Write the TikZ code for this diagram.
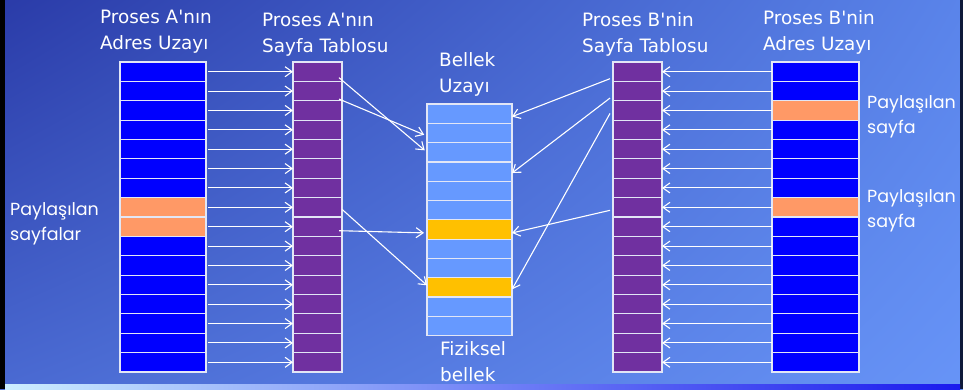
\documentclass[tikz,border=0pt]{standalone}
\usepackage{fontspec}
\newfontfamily\headfont{DejaVu Sans}
\newfontfamily\comicfont{Poppins}
\usetikzlibrary{arrows.meta,shadings}
\definecolor{cBlue}{HTML}{0000FF}
\definecolor{cOrange}{HTML}{FF9966}
\definecolor{cPurple}{HTML}{7030A0}
\definecolor{cMem}{HTML}{6699FF}
\definecolor{cYellow}{HTML}{FFC000}
\definecolor{cBorder}{HTML}{E2E6F6}
\definecolor{bgUL}{HTML}{2A3BA8}
\definecolor{bgUR}{HTML}{5A84EA}
\definecolor{bgLL}{HTML}{4A6AD2}
\definecolor{bgLR}{HTML}{6794F7}
\definecolor{edgeR}{HTML}{0E1A3A}
\definecolor{barL}{HTML}{CCEEFF}
\definecolor{barM}{HTML}{9DB2F4}
\definecolor{barR}{HTML}{1A1AEE}
\begin{document}
\begin{tikzpicture}[x=1pt,y=-1pt,
  cell/.style={draw=cBorder, line width=1.2pt, inner sep=0pt, outer sep=0pt, anchor=north west, minimum height=19.375pt},
  addr/.style={cell, minimum width=86pt},
  ptab/.style={cell, minimum width=49pt},
  mem/.style={cell, minimum width=85pt, minimum height=19.3pt},
  arr/.style={draw=white, line width=1.1pt, -{Straight Barb[length=7pt,width=10pt]}},
  head/.style={text=white, font=\headfont\fontsize{18.4}{25.5}\selectfont, align=left, anchor=base west, inner sep=0pt},
  side/.style={text=white, font=\comicfont\fontsize{17.5}{24.5}\selectfont, align=left, anchor=base west, inner sep=0pt}]
\useasboundingbox (0,0) rectangle (963,389);
% background
\shade[upper left=bgUL, upper right=bgUR, lower left=bgLL, lower right=bgLR] (0,0) rectangle (963,389);
\fill[black] (0,0) rectangle (5,389);
\fill[edgeR] (960,0) rectangle (963,389);
\shade[left color=barL, middle color=barM, right color=barR] (5,384) rectangle (960,389);
% address space A
\foreach \i/\c in {0/cBlue,1/cBlue,2/cBlue,3/cBlue,4/cBlue,5/cBlue,6/cBlue,7/cOrange,8/cOrange,9/cBlue,10/cBlue,11/cBlue,12/cBlue,13/cBlue,14/cBlue,15/cBlue}
  \node[addr, fill=\c] (a\i) at (120,{62+\i*19.375}) {};
% page table A
\foreach \i in {0,...,15}
  \node[ptab, fill=cPurple] (p\i) at (293,{62+\i*19.375}) {};
% memory
\foreach \i/\c in {0/cMem,1/cMem,2/cMem,3/cMem,4/cMem,5/cMem,6/cYellow,7/cMem,8/cMem,9/cYellow,10/cMem,11/cMem}
  \node[mem, fill=\c] (m\i) at (427,{104+\i*19.3}) {};
% page table B
\foreach \i in {0,...,15}
  \node[ptab, fill=cPurple] (q\i) at (613,{62+\i*19.375}) {};
% address space B
\foreach \i/\c in {0/cBlue,1/cBlue,2/cOrange,3/cBlue,4/cBlue,5/cBlue,6/cBlue,7/cOrange,8/cBlue,9/cBlue,10/cBlue,11/cBlue,12/cBlue,13/cBlue,14/cBlue,15/cBlue}
  \node[addr, minimum width=87pt, fill=\c] (b\i) at (772,{62+\i*19.375}) {};
% horizontal arrows
\foreach \i in {0,...,15} {
  \draw[arr, shorten <=2pt] (a\i.east) -- (p\i.west);
  \draw[arr] (b\i.west) -- (q\i.east);
}
% page table A -> memory
\draw[arr, shorten >=3pt] ([xshift=-3pt,yshift=-6pt]p0.east) -- (m2.west);
\draw[arr, shorten >=3pt] ([xshift=-3pt,yshift=-8pt]p1.east) -- ([yshift=-3pt]m1.west);
\draw[arr] ([yshift=-2pt]p7.east) -- ([yshift=2pt]m9.west);
\draw[arr, shorten >=3pt] ([xshift=-3pt,yshift=-4pt]p8.east) -- ([yshift=-3.5pt]m6.west);
% page table B -> memory
\draw[arr] ([xshift=-3pt,yshift=-7pt]q0.west) -- ([yshift=-3pt]m0.east);
\draw[arr] ([xshift=-3pt,yshift=-7pt]q1.west) -- ([yshift=-1.5pt]m3.east);
\draw[arr] ([xshift=-3pt,yshift=-3pt]q2.west) -- ([yshift=-2pt]m9.east);
\draw[arr] ([xshift=-3pt,yshift=-3pt]q7.west) -- ([yshift=-3.5pt]m6.east);
% labels (anchor = baseline of last line)
\node[head] (hA) at (100,49) {Proses A'nın\\Adres Uzayı};
\node[head] (hPA) at (262,52) {Proses A'nın\\Sayfa Tablosu};
\node[head] (hM) at (439,92) {Bellek\\Uzayı};
\node[head] (hF) at (440,381) {Fiziksel\\bellek};
\node[head] (hPB) at (582,52) {Proses B'nin\\Sayfa Tablosu};
\node[head] (hB) at (763,50) {Proses B'nin\\Adres Uzayı};
\node[side] (sA) at (10,240) {Paylaşılan\\sayfalar};
\node[side] (sB1) at (867,133) {Paylaşılan\\sayfa};
\node[side] (sB2) at (867,227) {Paylaşılan\\sayfa};
\end{tikzpicture}
\end{document}
